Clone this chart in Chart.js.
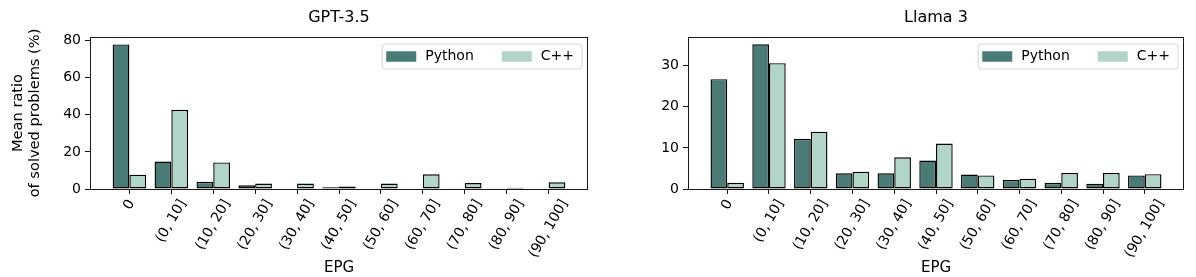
<!DOCTYPE html>
<html>
<head>
<meta charset="utf-8">
<script src="https://cdn.jsdelivr.net/npm/chart.js@4"></script>
<style>
  body { margin: 0; background: #fff; }
  #wrap { position: relative; width: 1196px; height: 277px; }
  .panel { position: absolute; top: 0; width: 598px; height: 277px; }
  #left { left: 0; }
  #right { left: 598px; }
</style>
</head>
<body>
<div id="wrap">
  <div class="panel" id="left"><canvas id="gptChart" width="598" height="277"></canvas></div>
  <div class="panel" id="right"><canvas id="llamaChart" width="598" height="277"></canvas></div>
</div>
<script>
// EPG bins on the x axis
const epgBins = ['0', '(0, 10]', '(10, 20]', '(20, 30]', '(30, 40]', '(40, 50]',
                 '(50, 60]', '(60, 70]', '(70, 80]', '(80, 90]', '(90, 100]'];

// Mean ratio of solved problems (%)
const gptPython   = [77.9, 14.8, 3.9, 2.0, 0, 0.9, 0.3, 0, 0.4, 0.2, 0];
const gptCpp      = [7.7, 42.7, 14.3, 2.9, 2.9, 1.4, 2.9, 7.9, 3.2, 0.7, 3.6];
const llamaPython = [26.7, 35.2, 12.2, 3.8, 3.8, 6.9, 3.5, 2.2, 1.5, 1.3, 3.3];
const llamaCpp    = [1.5, 30.6, 13.95, 4.2, 7.7, 11.05, 3.3, 2.5, 3.9, 3.9, 3.6];

const gptYTicks = [0, 20, 40, 60, 80];
const llamaYTicks = [0, 10, 20, 30];

const pythonColor = '#4a7b77';
const cppColor = '#b1d6c8';
const axisColor = '#1a1a1a';

Chart.defaults.font.family = "'DejaVu Sans', sans-serif";
Chart.defaults.color = '#000';

// Frame around the plot area (matplotlib style spines)
const framePlugin = {
    id: 'frame',
    afterDatasetsDraw(chart) {
        const { ctx, chartArea: a } = chart;
        ctx.save();
        ctx.strokeStyle = axisColor;
        ctx.lineWidth = 1;
        ctx.strokeRect(Math.round(a.left) + 0.5, Math.round(a.top) + 0.5,
                       Math.round(a.right - a.left) - 1, Math.round(a.bottom - a.top));
        ctx.restore();
    }
};

// x tick labels rotated 60 deg, box centred under the tick (matplotlib ha='center')
const centeredTickLabels = {
    id: 'centeredTickLabels',
    afterDraw(chart) {
        const scale = chart.scales.x;
        const { ctx } = chart;
        const size = 14, rot = Math.PI / 3;
        const top = chart.chartArea.bottom + 8;
        ctx.save();
        ctx.font = size + "px 'DejaVu Sans'";
        ctx.fillStyle = '#000';
        ctx.textAlign = 'center';
        ctx.textBaseline = 'middle';
        scale.ticks.forEach(t => {
            const label = epgBins[t.value];
            const w = ctx.measureText(label).width;
            const bh = w * Math.sin(rot) + size * 1.15 * Math.cos(rot);
            ctx.save();
            ctx.translate(scale.getPixelForValue(t.value), top + bh / 2);
            ctx.rotate(-rot);
            ctx.fillText(label, 0, 0);
            ctx.restore();
        });
        ctx.restore();
    }
};

// Legend box in the upper right corner, two columns
const boxLegend = {
    id: 'boxLegend',
    afterDraw(chart) {
        const { ctx, chartArea: a } = chart;
        ctx.save();
        ctx.font = "14px 'DejaVu Sans'";
        const sw = 30, sh = 10.5, gapText = 9, colGap = 28, padL = 4.5, padR = 7.5, boxH = 25;
        const items = chart.data.datasets.map(ds => ({
            label: ds.label, color: ds.backgroundColor, w: ctx.measureText(ds.label).width
        }));
        let width = padL + padR + colGap * (items.length - 1);
        items.forEach(it => width += sw + gapText + it.w);
        const x0 = a.right - 6.5 - width;
        const y0 = a.top + 6.5;

        ctx.beginPath();
        ctx.roundRect(x0 + 0.5, y0 + 0.5, width, boxH, 3);
        ctx.fillStyle = 'rgba(255,255,255,0.8)';
        ctx.fill();
        ctx.strokeStyle = '#d6d6d6';
        ctx.lineWidth = 1;
        ctx.stroke();

        let x = x0 + padL;
        const cy = y0 + boxH / 2 + 0.5;
        items.forEach(it => {
            ctx.fillStyle = it.color;
            ctx.fillRect(x, cy - sh / 2, sw, sh);
            ctx.fillStyle = '#000';
            ctx.textBaseline = 'middle';
            ctx.fillText(it.label, x + sw + gapText, cy);
            x += sw + gapText + it.w + colGap;
        });
        ctx.restore();
    }
};

function makeChart(canvasId, title, pyVals, cppVals, yMax, yTicks, showYTitle, padRight) {
    const ctx = document.getElementById(canvasId).getContext('2d');
    return new Chart(ctx, {
        type: 'bar',
        data: {
            datasets: [{
                label: 'Python',
                data: pyVals.map((v, i) => ({ x: i, y: v })),
                backgroundColor: pythonColor,
                borderColor: '#000',
                borderWidth: 1.4,
                borderSkipped: false,
                categoryPercentage: 0.8,
                barPercentage: 1.0
            }, {
                label: 'C++',
                data: cppVals.map((v, i) => ({ x: i, y: v })),
                backgroundColor: cppColor,
                borderColor: '#000',
                borderWidth: 1.4,
                borderSkipped: false,
                categoryPercentage: 0.8,
                barPercentage: 1.0
            }]
        },
        options: {
            responsive: false,
            animation: false,
            devicePixelRatio: 1,
            layout: { padding: { left: 0, right: padRight, top: 0, bottom: 0 } },
            plugins: {
                legend: { display: false },
                tooltip: { enabled: false },
                title: {
                    display: true,
                    text: title,
                    fullSize: false,
                    color: '#000',
                    font: { size: 16, weight: 'normal', lineHeight: 1.2 },
                    padding: { top: 8.5, bottom: 9.3 }
                }
            },
            scales: {
                x: {
                    type: 'linear',
                    min: -0.94,
                    max: 10.94,
                    offset: false,
                    border: { display: false },
                    grid: { display: true, offset: false, drawOnChartArea: false, drawTicks: true,
                            tickLength: 5, color: axisColor },
                    afterBuildTicks: scale => { scale.ticks = epgBins.map((_, i) => ({ value: i })); },
                    afterFit: scale => { scale.height = 88; },
                    ticks: { display: false, autoSkip: false },
                    title: {
                        display: true,
                        text: 'EPG',
                        color: '#000',
                        font: { size: 15, lineHeight: 1 },
                        padding: { top: 0, bottom: 1 }
                    }
                },
                y: {
                    min: 0,
                    max: yMax,
                    border: { display: false },
                    grid: { display: true, drawOnChartArea: false, drawTicks: true,
                            tickLength: 5, color: axisColor },
                    afterBuildTicks: scale => { scale.ticks = yTicks.map(v => ({ value: v })); },
                    afterFit: scale => { scale.width = 90; },
                    ticks: { padding: 4, color: '#000', font: { size: 14 } },
                    title: {
                        display: showYTitle,
                        text: ['Mean ratio', 'of solved problems (%)'],
                        color: '#000',
                        font: { size: 14.6, lineHeight: 1.2 },
                        padding: { top: 9.4, bottom: 0 }
                    }
                }
            }
        },
        plugins: [framePlugin, centeredTickLabels, boxLegend]
    });
}

makeChart('gptChart', 'GPT-3.5', gptPython, gptCpp, 81.9, gptYTicks, true, 10);
makeChart('llamaChart', 'Llama 3', llamaPython, llamaCpp, 36.96, llamaYTicks, false, 12);
</script>
</body>
</html>
